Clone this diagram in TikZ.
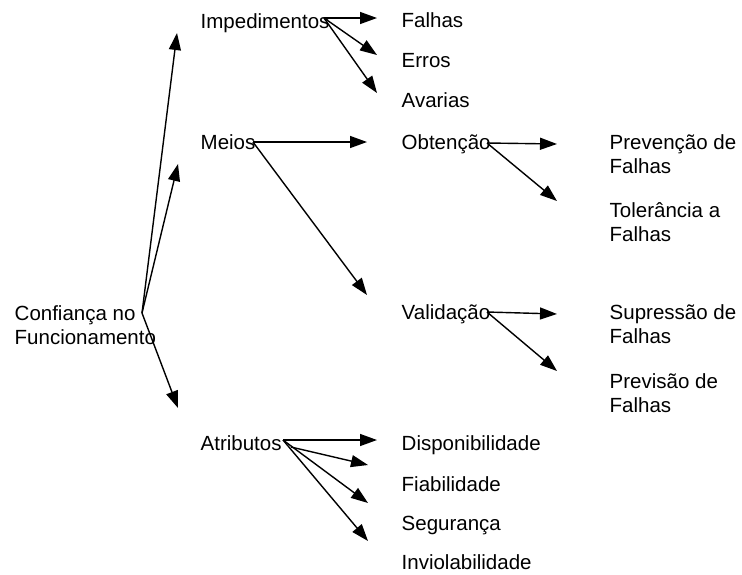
\documentclass[tikz,border=0pt]{standalone}
\usepackage{fontspec}
\setmainfont{Liberation Sans}
\usetikzlibrary{arrows.meta}
\begin{document}
\begin{tikzpicture}[x=1pt, y=-1pt, line width=1.4pt, >={Triangle[length=17pt,width=12pt]},
item/.style={anchor=base west, inner sep=0pt, align=left, font=\fontsize{20.5}{24}\selectfont}]
\useasboundingbox (0,0) rectangle (742,574);
\begin{scope}
\node[item] (conf) at (14,344) {Confiança no\\Funcionamento};
\node[item] (imp) at (200,28) {Impedimentos};
\node[item] (meios) at (200,149) {Meios};
\node[item] (atr) at (200,450) {Atributos};
\node[item] (falhas) at (401,27) {Falhas};
\node[item] (erros) at (401,67) {Erros};
\node[item] (avarias) at (401,107) {Avarias};
\node[item] (obt) at (401,149) {Obtenção};
\node[item] (val) at (401,319) {Validação};
\node[item] (prev) at (609,173) {Prevenção de\\Falhas};
\node[item] (tol) at (609,241) {Tolerância a\\Falhas};
\node[item] (sup) at (609,343) {Supressão de\\Falhas};
\node[item] (previs) at (609,412) {Previsão de\\Falhas};
\node[item] (disp) at (401,450) {Disponibilidade};
\node[item] (fiab) at (401,491) {Fiabilidade};
\node[item] (seg) at (401,530) {Segurança};
\node[item] (inv) at (401,569) {Inviolabilidade};
\end{scope}
% arrow ends
\coordinate (o-conf) at (142,313);
\coordinate (o-imp) at (324,18);
\coordinate (o-meios) at (253,142);
\coordinate (o-obt) at (487,143);
\coordinate (o-val) at (487,312);
\coordinate (o-atr) at (283,440);
\coordinate (o-atr2) at (291,447);
\coordinate (t-imp) at (177,33);
\coordinate (t-meios) at (178,164);
\coordinate (t-atr) at (178,408);
\coordinate (t-falhas) at (377,18);
\coordinate (t-erros) at (377,55);
\coordinate (t-avarias) at (377,93);
\coordinate (t-obt) at (367,142);
\coordinate (t-val) at (367,295);
\coordinate (t-prev) at (557,144);
\coordinate (t-tol) at (557,201);
\coordinate (t-sup) at (557,314);
\coordinate (t-previs) at (557,371);
\coordinate (t-disp) at (377,440);
\coordinate (t-fiab) at (368,465);
\coordinate (t-seg) at (368,503);
\coordinate (t-inv) at (368,541);
\begin{scope}
\draw (o-conf) edge[->] (t-imp);
\draw (o-conf) edge[->] (t-meios);
\draw (o-conf) edge[->] (t-atr);
\draw (o-imp) edge[->] (t-falhas);
\draw (o-imp) edge[->] (t-erros);
\draw (o-imp) edge[->] (t-avarias);
\draw (o-meios) edge[->] (t-obt);
\draw (o-meios) edge[->] (t-val);
\draw (o-obt) edge[->] (t-prev);
\draw (o-obt) edge[->] (t-tol);
\draw (o-val) edge[->] (t-sup);
\draw (o-val) edge[->] (t-previs);
\draw (o-atr) edge[->] (t-disp);
\draw (o-atr2) edge[->] (t-fiab);
\draw (o-atr) edge[->] (t-seg);
\draw (o-atr) edge[->] (t-inv);
\end{scope}
\end{tikzpicture}
\end{document}
